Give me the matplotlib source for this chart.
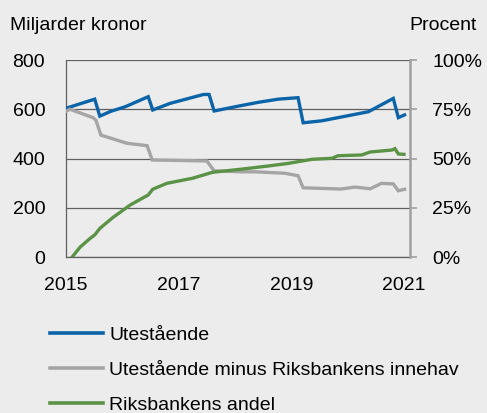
import matplotlib
matplotlib.use("Agg")
import matplotlib.pyplot as plt
from matplotlib.lines import Line2D

plt.rcParams['font.family'] = ['Liberation Sans', 'DejaVu Sans']

# Data, x in fractional years
blue_x = [2015.00, 2015.51, 2015.60, 2015.80, 2016.05, 2016.46, 2016.54, 2016.85, 2017.44, 2017.54,
          2017.63, 2018.09, 2018.41, 2018.77, 2019.12, 2019.21, 2019.54, 2020.37, 2020.81, 2020.90, 2021.01]
blue_y = [604, 641, 572, 592, 610, 651, 597, 624, 660, 660,
          593, 614, 628, 641, 647, 545, 553, 590, 644, 566, 577]

gray_x = [2015.00, 2015.07, 2015.48, 2015.53, 2015.62, 2016.08, 2016.44, 2016.53, 2017.50, 2017.63,
          2018.09, 2018.36, 2018.89, 2019.12, 2019.21, 2019.88, 2020.13, 2020.40, 2020.60, 2020.81,
          2020.90, 2021.01]
gray_y = [592, 600, 566, 556, 495, 462, 452, 394, 390, 350,
          346, 346, 340, 330, 281, 276, 284, 277, 299, 297,
          269, 275]

green_x = [2015.11, 2015.25, 2015.43, 2015.51, 2015.60, 2015.83, 2016.14, 2016.46, 2016.54, 2016.79,
           2017.25, 2017.60, 2018.09, 2018.59, 2018.94, 2019.37, 2019.72, 2019.83, 2020.25, 2020.40,
           2020.79, 2020.84, 2020.90, 2021.00]
green_y = [0, 5, 9.5, 11.2, 14.5, 20, 26.4, 31.5, 34.4, 37.4,
           40, 43, 44.5, 46.2, 47.5, 49.6, 50.1, 51.4, 51.8, 53.3,
           54.3, 55, 52.3, 52.1]

labels = ["Utestående", "Utestående minus Riksbankens innehav", "Riksbankens andel"]
x_ticks = [2015, 2017, 2019, 2021]
left_ticks = [0, 200, 400, 600, 800]
right_ticks = [0, 25, 50, 75, 100]

bg = '#ececec'
c_blue = '#0b64a8'
c_gray = '#a5a5a5'
c_green = '#5b9346'
grid_c = '#5f5f5f'
fs = 14

fig = plt.figure(figsize=(4.87, 4.13), dpi=100, facecolor=bg)
ax = fig.add_axes([66/487, 1-257/413, (410-66)/487, (257-60)/413])
ax.set_facecolor(bg)
ax.plot(blue_x, blue_y, color=c_blue, lw=2.4, solid_joinstyle='miter', zorder=3)
ax.plot(gray_x, gray_y, color=c_gray, lw=2.4, solid_joinstyle='miter', zorder=4)
ax.set_xlim(2015, 2021.107)
ax.set_ylim(0, 800)
ax.set_yticks(left_ticks)
ax.set_xticks(x_ticks)
ax.set_xticklabels([str(t) for t in x_ticks])
ax.grid(axis='y', color=grid_c, lw=0.9)
ax.set_axisbelow(True)
ax.tick_params(axis='y', length=0, pad=15, labelsize=fs)
ax.tick_params(axis='x', length=0, pad=14.5, labelsize=fs)
for s in ['top', 'right']:
    ax.spines[s].set_visible(False)
for s in ['left', 'bottom']:
    ax.spines[s].set_color(grid_c)
    ax.spines[s].set_linewidth(0.9)

ax2 = ax.twinx()
ax2.plot(green_x, green_y, color=c_green, lw=2.4, solid_joinstyle='miter', zorder=5)
ax2.set_ylim(0, 100)
ax2.set_yticks(right_ticks)
ax2.set_yticklabels([f"{t}%" for t in right_ticks])
ax2.tick_params(axis='y', length=5, width=1.2, color='#a0a0a0', pad=11, labelsize=fs)
for s in ['top', 'left', 'bottom']:
    ax2.spines[s].set_visible(False)
ax2.spines['right'].set_color('#a0a0a0')
ax2.spines['right'].set_linewidth(1.8)

fig.text(10/487, 1-25/413, "Miljarder kronor", fontsize=fs, ha='left', va='center')
fig.text(477/487, 1-25/413, "Procent", fontsize=fs, ha='right', va='center')

handles = [Line2D([], [], color=c, lw=2.6) for c in (c_blue, c_gray, c_green)]
fig.legend(handles, labels, loc='upper left', bbox_to_anchor=(50/487, 1-326/413),
           frameon=False, fontsize=fs, handlelength=2.73, handletextpad=0.31,
           labelspacing=0.91, borderaxespad=0, borderpad=0)

fig.savefig("out.png", dpi=100, facecolor=bg)
